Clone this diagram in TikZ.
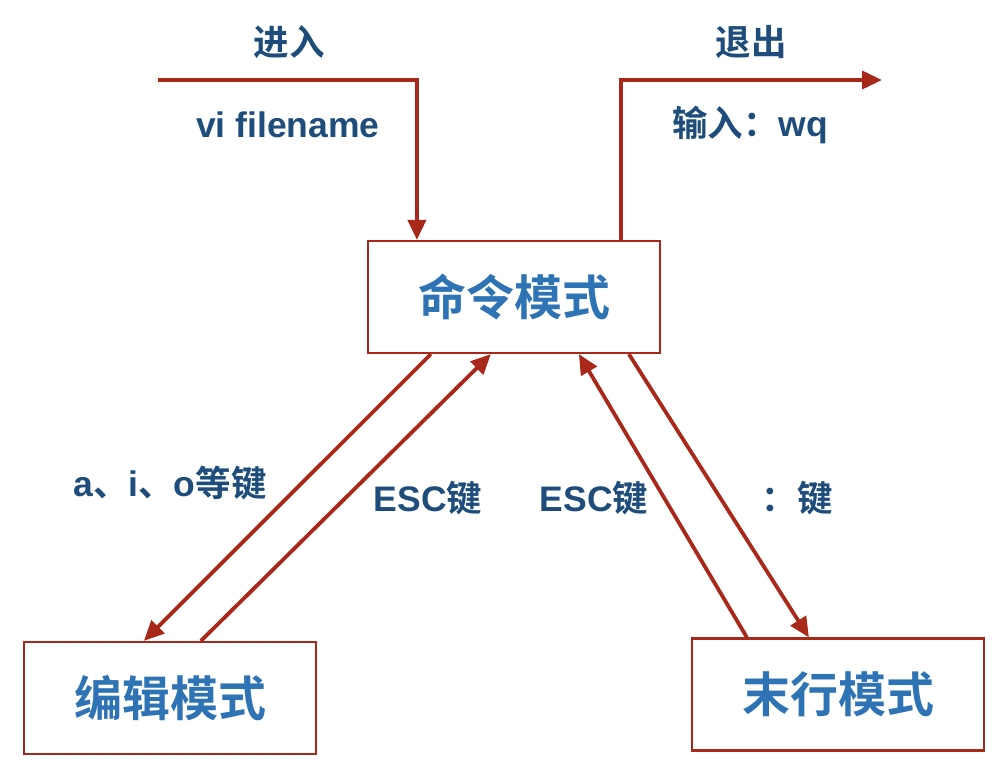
\documentclass[tikz,border=0pt]{standalone}
\usepackage{fontspec}
\setmainfont{Liberation Sans}
\newfontfamily\cjk{Noto Sans CJK SC}[BoldFont={Noto Sans CJK SC Bold}]
\usetikzlibrary{arrows.meta,calc}
\definecolor{lineRed}{RGB}{168,41,26}
\definecolor{labBlue}{RGB}{30,77,123}
\definecolor{boxBlue}{RGB}{46,116,181}
\tikzset{
  modebox/.style={draw=lineRed,line width=2.2pt,minimum width=292pt,minimum height=112pt,inner sep=0pt,
    font=\cjk\bfseries\fontsize{48}{52}\selectfont,text=boxBlue},
  conn/.style={draw=lineRed,line width=3.8pt,-{Triangle[length=20pt,width=18pt]}},
  lab/.style={text=labBlue,font=\bfseries\fontsize{35.5}{38}\selectfont,inner sep=0pt}
}
\begin{document}
\begin{tikzpicture}[x=1pt,y=-1pt]
\useasboundingbox (0,0) rectangle (1004,772);
\node[modebox] (cmd) at (514,297) {命令模式};
\node[modebox] (edit) at (170,698) {编辑模式};
\node[modebox] (last) at (838,694.5) {末行模式};
\coordinate (in) at (158,80);
\coordinate (out) at (882,80);
\draw[conn] (in) -| ([xshift=50pt]cmd.north west);
\draw[conn] ([xshift=254pt]cmd.north west) |- (out);
\draw[conn] ([xshift=64pt]cmd.south west) -- ([xshift=121pt]edit.north west);
\draw[conn] ([xshift=178pt]edit.north west) -- ([xshift=124pt]cmd.south west);
\draw[conn] ([xshift=56pt]last.north west) -- ([xshift=212pt]cmd.south west);
\draw[conn] ([xshift=262pt]cmd.south west) -- ([xshift=118pt]last.north west);
\node[lab] (enter) at (289,42) {\cjk\bfseries 进入};
\node[lab] (vi) at (288,125) {vi filename};
\node[lab] (exit) at (751,42) {\cjk\bfseries 退出};
\node[lab] (wq) at (750,125) {{\cjk\bfseries 输入：}wq};
\node[lab] (aio) at (170,483) {a{\cjk\bfseries 、}i{\cjk\bfseries 、}o{\cjk\bfseries 等键}};
\node[lab] (esc1) at (428,498) {ESC{\cjk\bfseries 键}};
\node[lab] (esc2) at (594,498) {ESC{\cjk\bfseries 键}};
\node[lab] (colon) at (797,498) {\cjk\bfseries ：键};
\end{tikzpicture}
\end{document}
